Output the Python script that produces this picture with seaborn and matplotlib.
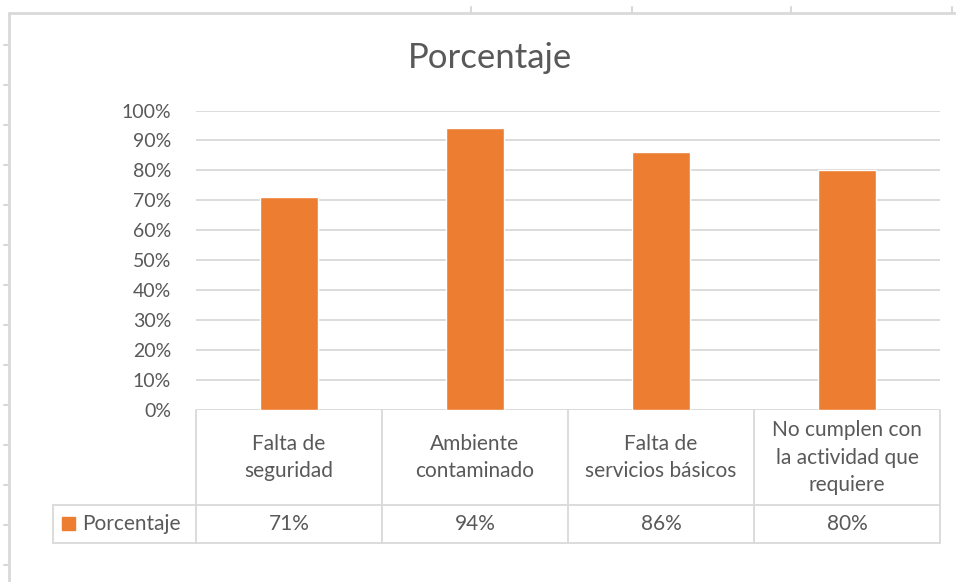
import matplotlib
matplotlib.use('Agg')
import matplotlib.pyplot as plt
import seaborn as sns
import pandas as pd
from matplotlib.lines import Line2D
from matplotlib.patches import Rectangle

# Datos
categorias = ['Falta de\nseguridad', 'Ambiente\ncontaminado',
              'Falta de\nservicios básicos', 'No cumplen con\nla actividad que\nrequiere']
valores = [0.71, 0.94, 0.86, 0.80]
serie = 'Porcentaje'
yticks = [i / 10 for i in range(11)]

NARANJA = '#ed7d31'
GRIS_TXT = '#595959'
GRIS_LIN = '#d9d9d9'

sns.set_theme(style='white')
plt.rcParams['font.family'] = ['Lato', 'DejaVu Sans']

W, H = 956, 582
fig = plt.figure(figsize=(W / 100, H / 100), dpi=100)

# pixel -> fraccion de figura
def fx(px):
    return px / W

def fy(py):
    return 1 - py / H

x0, x1 = 196, 940
y0, y100 = 410, 110.5
ax = fig.add_axes([fx(x0), fy(y0), fx(x1) - fx(x0), fy(y100) - fy(y0)])

df = pd.DataFrame({'cat': categorias, 'val': valores})
sns.barplot(data=df, x='cat', y='val', color=NARANJA, saturation=1,
            width=0.31, ax=ax, zorder=3)

ax.set_xlim(-0.5, len(categorias) - 0.5)
ax.set_ylim(0, 1)
ax.set_yticks(yticks)
ax.set_yticklabels([f'{int(round(t * 100))}%' for t in yticks],
                   fontsize=14, color=GRIS_TXT)
ax.tick_params(axis='y', length=0, pad=18)
ax.set_xticks([])
ax.set_xlabel('')
ax.set_ylabel('')
ax.yaxis.grid(True, color=GRIS_LIN, linewidth=1.3, zorder=0)
for s in ax.spines.values():
    s.set_visible(False)

# Titulo
fig.text(fx(490), fy(58), serie, ha='center', va='center',
         fontsize=25, color=GRIS_TXT)

# Tabla de datos
def linea(xa, ya, xb, yb, color=GRIS_LIN, lw=1.3):
    fig.add_artist(Line2D([fx(xa), fx(xb)], [fy(ya), fy(yb)],
                          transform=fig.transFigure, color=color, lw=lw))

cols = [x0 + i * (x1 - x0) / len(categorias) for i in range(len(categorias) + 1)]
y_head, y_row = 505, 543
x_leg = 53

linea(x_leg, y_head, x1, y_head)
linea(x_leg, y_row, x1, y_row)
linea(x_leg, y_head, x_leg, y_row)
for c in cols:
    linea(c, y0, c, y_row)

for i, (cat, val) in enumerate(zip(categorias, valores)):
    cx = (cols[i] + cols[i + 1]) / 2
    fig.text(fx(cx), fy((y0 + y_head) / 2), cat, ha='center', va='center',
             fontsize=15, color=GRIS_TXT, linespacing=1.45)
    fig.text(fx(cx), fy((y_head + y_row) / 2), f'{round(val * 100)}%',
             ha='center', va='center', fontsize=15, color=GRIS_TXT)

fig.add_artist(Rectangle((fx(62), fy(530)), fx(13), fy(517) - fy(530),
                         transform=fig.transFigure, color=NARANJA))
fig.text(fx(82), fy((y_head + y_row) / 2), serie, ha='left', va='center',
         fontsize=15, color=GRIS_TXT)

# borde tipo hoja de calculo
linea(9, 13, 9, H, lw=2)
linea(9, 13, W, 13, lw=2)
for ty in range(45, H, 40):
    linea(4, ty, 9, ty, lw=1.5)
for tx in [471, 632, 791, 952]:
    linea(tx, 7, tx, 13, lw=1.5)

fig.savefig('out.png', dpi=100)
